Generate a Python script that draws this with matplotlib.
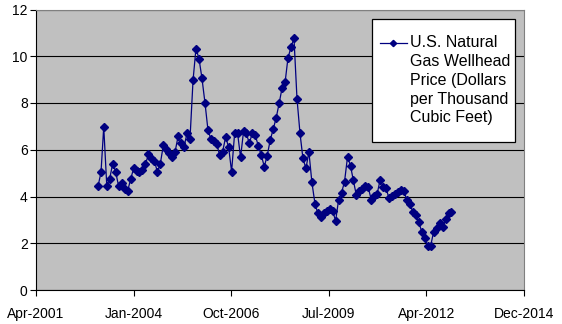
import datetime as dt
import matplotlib
matplotlib.use("Agg")
import matplotlib.pyplot as plt
import matplotlib.dates as mdates
from matplotlib.patches import Rectangle
from matplotlib.lines import Line2D

plt.rcParams["font.family"] = ["Liberation Sans", "DejaVu Sans"]

# Monthly U.S. natural gas wellhead price, Jan 2003 - Dec 2012 ($/Mcf)
years = list(range(2003, 2013))
prices = [
    4.43, 5.03, 6.98, 4.47, 4.76, 5.41, 5.06, 4.43, 4.56, 4.30, 4.24, 4.73,   # 2003
    5.20, 5.10, 5.06, 5.13, 5.38, 5.80, 5.66, 5.51, 5.06, 5.41, 6.20, 6.03,   # 2004
    5.84, 5.70, 5.91, 6.58, 6.30, 6.13, 6.70, 6.48, 8.97, 10.33, 9.90, 9.07,  # 2005
    8.02, 6.84, 6.48, 6.38, 6.25, 5.77, 5.91, 6.55, 6.10, 5.06, 6.70, 6.72,   # 2006
    5.67, 6.81, 6.70, 6.27, 6.72, 6.62, 6.17, 5.77, 5.28, 5.75, 6.42, 6.87,   # 2007
    7.37, 8.00, 8.64, 8.88, 9.94, 10.38, 10.79, 8.19, 6.70, 5.63, 5.20, 5.91, # 2008
    4.60, 3.70, 3.30, 3.13, 3.28, 3.39, 3.45, 3.38, 2.96, 3.85, 4.17, 4.63,   # 2009
    5.70, 5.30, 4.70, 4.06, 4.22, 4.32, 4.44, 4.40, 3.85, 4.04, 4.12, 4.72,   # 2010
    4.41, 4.35, 3.92, 4.04, 4.12, 4.20, 4.27, 4.22, 3.85, 3.66, 3.35, 3.21,   # 2011
    2.89, 2.49, 2.24, 1.88, 1.88, 2.49, 2.64, 2.85, 2.71, 3.02, 3.30, 3.35,   # 2012
]
months = [dt.date(y, m, 15) for y in years for m in range(1, 13)]

series_label = "U.S. Natural\nGas Wellhead\nPrice (Dollars\nper Thousand\nCubic Feet)"
y_ticks = [0, 2, 4, 6, 8, 10, 12]

# Date axis: 1000-day major unit starting in April 2001
x_start = dt.date(2001, 4, 20)
x_ticks = [x_start + dt.timedelta(days=1000 * k) for k in range(6)]

LINE_COLOR = "#000080"
W, H = 562, 324
fig = plt.figure(figsize=(W / 100, H / 100), dpi=100)
fig.patch.set_facecolor("white")
ax = fig.add_axes([36 / W, 1 - 290 / H, (524 - 36) / W, (290 - 9.5) / H])
ax.set_facecolor("#C0C0C0")

ax.plot(months, prices, color=LINE_COLOR, lw=0.9, marker="D", ms=4.0,
        mec=LINE_COLOR, mfc=LINE_COLOR, zorder=3)

ax.set_xlim(x_ticks[0], x_ticks[-1])
ax.set_ylim(0, 12)
ax.set_xticks(x_ticks)
ax.xaxis.set_major_formatter(mdates.DateFormatter("%b-%Y"))
ax.set_yticks(y_ticks)

ax.yaxis.grid(True, color="black", lw=0.8, zorder=1)
ax.set_axisbelow(True)

for side in ("top", "right"):
    ax.spines[side].set_color("#808080")
    ax.spines[side].set_linewidth(0.8)
for side in ("left", "bottom"):
    ax.spines[side].set_color("black")
    ax.spines[side].set_linewidth(0.8)

ax.tick_params(axis="x", direction="out", length=4, width=0.8, pad=8,
               labelsize=10, colors="black")
ax.tick_params(axis="y", direction="out", length=4, width=0.8, pad=2,
               labelsize=10, colors="black")

# Legend: white box, line+diamond key beside the first line of the label
box_l, box_t, box_r, box_b = 371.7, 19.3, 515.3, 142.3
ftr = fig.transFigure
ax.add_patch(Rectangle((box_l / W, 1 - box_b / H), (box_r - box_l) / W,
                       (box_b - box_t) / H, transform=ftr,
                       facecolor="white", edgecolor="black", lw=0.9,
                       zorder=5, clip_on=False))
key_y = 1 - 43.3 / H
ax.add_line(Line2D([380 / W, 406.5 / W], [key_y, key_y], transform=ftr,
                   color=LINE_COLOR, lw=0.9, zorder=6, clip_on=False))
ax.add_line(Line2D([393.3 / W], [key_y], transform=ftr, color=LINE_COLOR,
                   marker="D", ms=3.2, zorder=6, clip_on=False))
ax.text(410.5 / W, 1 - 35 / H, series_label, transform=ftr, fontsize=11.5,
        linespacing=1.32, ha="left", va="top", color="black", zorder=6)

fig.savefig("out.png", dpi=100)
